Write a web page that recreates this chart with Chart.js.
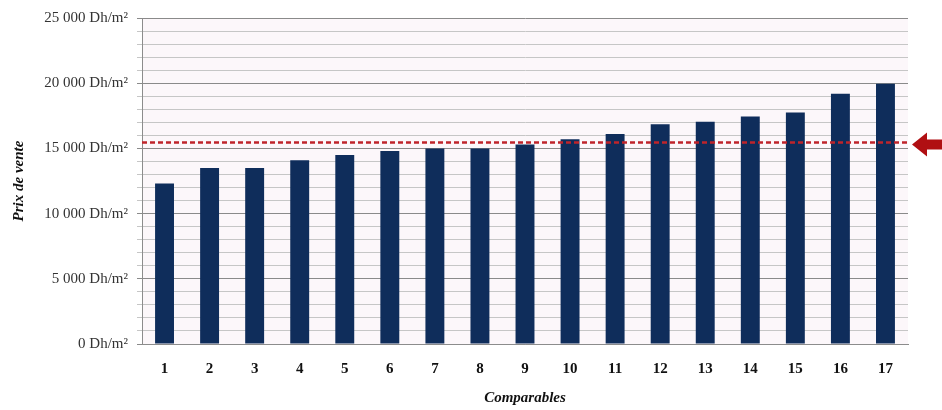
<!DOCTYPE html>
<html>
<head>
<meta charset="utf-8">
<script src="https://cdn.jsdelivr.net/npm/chart.js@4/dist/chart.umd.min.js"></script>
<style>
  html, body { margin: 0; padding: 0; background: #ffffff; }
  #wrap { width: 942px; height: 410px; }
</style>
</head>
<body>
<div id="wrap"><canvas id="c" width="942" height="410"></canvas></div>
<script>
// Comparables and their sale prices (Dh/m²)
const comparables = ['1','2','3','4','5','6','7','8','9','10','11','12','13','14','15','16','17'];
const prixVente = [12300, 13500, 13500, 14100, 14500, 14800, 15000, 15000, 15300, 15700, 16100, 16850, 17050, 17450, 17750, 19200, 19950];
// Retained reference price, shown as the dashed line with the arrow
const prixRetenu = 15450;
// Y axis range and steps
const yMin = 0, yMax = 25000, yMinorStep = 1000, yMajorStep = 5000;

const serif = "'Liberation Serif', 'Times New Roman', serif";

function formatDh(v) {
  const s = String(v).replace(/\B(?=(\d{3})+(?!\d))/g, ' ');
  return s + ' Dh/m²';
}

const decorPlugin = {
  id: 'decor',
  beforeDraw(chart) {
    const { ctx, chartArea: a } = chart;
    ctx.save();
    ctx.fillStyle = '#fcf7fa';
    ctx.fillRect(a.left, a.top, a.right - a.left, a.bottom - a.top);
    ctx.restore();
  },
  afterDatasetsDraw(chart) {
    const { ctx, chartArea: a, scales } = chart;
    const y = scales.y.getPixelForValue(prixRetenu);
    ctx.save();
    // dashed reference line
    ctx.strokeStyle = '#bf242b';
    ctx.lineWidth = 2.5;
    ctx.setLineDash([5, 3]);
    ctx.beginPath();
    ctx.moveTo(a.left, y);
    ctx.lineTo(a.right + 2, y);
    ctx.stroke();
    ctx.setLineDash([]);
    // arrow pointing at the line
    const tipX = a.right + 4, headX = tipX + 15, endX = chart.width;
    const cy = y + 2;
    ctx.fillStyle = '#b00f12';
    ctx.beginPath();
    ctx.moveTo(tipX, cy);
    ctx.lineTo(headX, cy - 12);
    ctx.lineTo(headX, cy - 5);
    ctx.lineTo(endX, cy - 5);
    ctx.lineTo(endX, cy + 5);
    ctx.lineTo(headX, cy + 5);
    ctx.lineTo(headX, cy + 12);
    ctx.closePath();
    ctx.fill();
    ctx.restore();
  }
};

new Chart(document.getElementById('c'), {
  type: 'bar',
  data: {
    labels: comparables,
    datasets: [{
      data: prixVente,
      backgroundColor: '#0f2d5b',
      borderWidth: 0,
      barPercentage: 0.42,
      categoryPercentage: 1.0
    }]
  },
  options: {
    responsive: false,
    animation: false,
    devicePixelRatio: 1,
    layout: { padding: { top: 16, right: 34, left: 0, bottom: 0 } },
    plugins: {
      legend: { display: false },
      tooltip: { enabled: false }
    },
    scales: {
      x: {
        grid: { display: false },
        border: { display: true, color: '#8c8c8c', width: 1 },
        ticks: {
          color: '#111',
          padding: 8,
          font: { family: serif, size: 15, weight: 'bold' }
        },
        title: {
          display: true,
          text: 'Comparables',
          color: '#111',
          padding: { top: 0, bottom: 3 },
          font: { family: serif, size: 15, weight: 'bold', style: 'italic' }
        },
        afterFit(scale) { scale.height = 66; }
      },
      y: {
        min: yMin,
        max: yMax,
        grid: {
          color: (c) => (c.tick && c.tick.value % yMajorStep === 0) ? '#8a8a8a' : '#c6c6c6',
          lineWidth: 1,
          tickLength: 5,
          drawTicks: true
        },
        border: { display: true, color: '#8c8c8c', width: 1 },
        ticks: {
          stepSize: yMinorStep,
          autoSkip: false,
          padding: 9,
          color: '#333',
          font: { family: serif, size: 15 },
          callback: (v) => (v % yMajorStep === 0) ? formatDh(v) : ''
        },
        title: {
          display: true,
          text: 'Prix de vente',
          color: '#111',
          padding: { top: 10, bottom: 0 },
          font: { family: serif, size: 15, weight: 'bold', style: 'italic' }
        },
        afterFit(scale) { scale.width = 142; }
      }
    }
  },
  plugins: [decorPlugin]
});
</script>
</body>
</html>
